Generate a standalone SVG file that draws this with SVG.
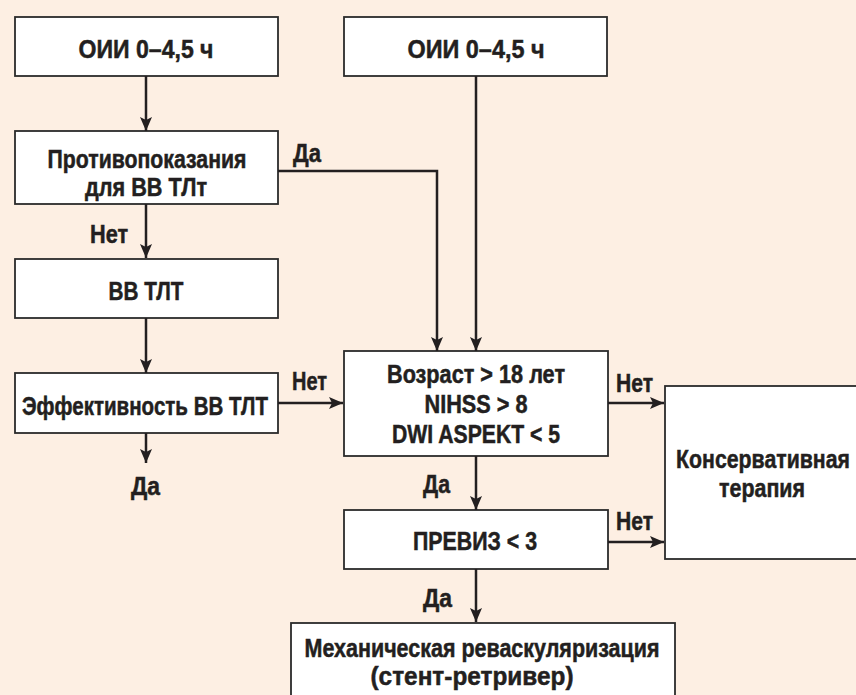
<svg xmlns="http://www.w3.org/2000/svg" width="856" height="695" viewBox="0 0 856 695">
<defs>
<marker id="ah" viewBox="0 0 14 12" refX="14" refY="6" markerWidth="14" markerHeight="12" markerUnits="userSpaceOnUse" orient="auto">
<path d="M0,0 L14,6 L0,12 L3,6 z" fill="#231f20"/>
</marker>
<style>
.box{fill:#fff;stroke:#2b2b2b;stroke-width:1.8}
.t{font-family:"Liberation Sans",Arial,sans-serif;font-weight:bold;font-size:25.5px;fill:#231f20;stroke:#231f20;stroke-width:0.5;text-anchor:middle}
.l{font-family:"Liberation Sans",Arial,sans-serif;font-weight:bold;font-size:25.5px;fill:#231f20;stroke:#231f20;stroke-width:0.5}
.c{fill:none;stroke:#231f20;stroke-width:2.5}
</style>
</defs>
<rect width="856" height="695" fill="#fdefe3"/>
<g id="n1"><rect class="box" x="15" y="17" width="263" height="59"/><text class="t" x="146" y="58" textLength="135" lengthAdjust="spacingAndGlyphs">ОИИ 0–4,5 ч</text></g>
<g id="n2"><rect class="box" x="344" y="17" width="263" height="59"/><text class="t" x="476" y="58" textLength="137" lengthAdjust="spacingAndGlyphs">ОИИ 0–4,5 ч</text></g>
<g id="n3"><rect class="box" x="15" y="131" width="263" height="73"/><text class="t" x="147" y="168" textLength="199" lengthAdjust="spacingAndGlyphs">Противопоказания</text><text class="t" x="146" y="196" textLength="122" lengthAdjust="spacingAndGlyphs">для ВВ ТЛт</text></g>
<g id="n4"><rect class="box" x="15" y="259" width="263" height="59"/><text class="t" x="146" y="300" textLength="75" lengthAdjust="spacingAndGlyphs">ВВ ТЛТ</text></g>
<g id="n5"><rect class="box" x="15" y="373" width="263" height="60"/><text class="t" x="145" y="415" textLength="246" lengthAdjust="spacingAndGlyphs">Эффективность ВВ ТЛТ</text></g>
<g id="n6"><rect class="box" x="344" y="351" width="264" height="105"/><text class="t" x="476" y="383" textLength="178" lengthAdjust="spacingAndGlyphs">Возраст &gt; 18 лет</text><text class="t" x="476" y="413" textLength="103" lengthAdjust="spacingAndGlyphs">NIHSS &gt; 8</text><text class="t" x="476" y="443" textLength="168" lengthAdjust="spacingAndGlyphs">DWI ASPEKT &lt; 5</text></g>
<g id="n7"><rect class="box" x="344" y="510" width="264" height="59"/><text class="t" x="475" y="550" textLength="124" lengthAdjust="spacingAndGlyphs">ПРЕВИЗ &lt; 3</text></g>
<g id="n8"><rect class="box" x="665" y="386" width="200" height="173"/><text class="t" x="763" y="468" textLength="174" lengthAdjust="spacingAndGlyphs">Консервативная</text><text class="t" x="762" y="497" textLength="86" lengthAdjust="spacingAndGlyphs">терапия</text></g>
<g id="n9"><rect class="box" x="291" y="623" width="384" height="80"/><text class="t" x="482" y="657" textLength="355" lengthAdjust="spacingAndGlyphs">Механическая реваскуляризация</text><text class="t" x="472" y="685" textLength="203" lengthAdjust="spacingAndGlyphs">(стент-ретривер)</text></g>
<g id="connectors">
<line class="c" x1="146" y1="76" x2="146" y2="131" marker-end="url(#ah)"/>
<line class="c" x1="146" y1="204" x2="146" y2="258" marker-end="url(#ah)"/>
<line class="c" x1="146" y1="318" x2="146" y2="373" marker-end="url(#ah)"/>
<line class="c" x1="146" y1="433" x2="146" y2="463" marker-end="url(#ah)"/>
<polyline class="c" points="278,171 437,171 437,351" marker-end="url(#ah)"/>
<line class="c" x1="476" y1="76" x2="476" y2="351" marker-end="url(#ah)"/>
<line class="c" x1="278" y1="403" x2="343" y2="403" marker-end="url(#ah)"/>
<line class="c" x1="608" y1="403" x2="664" y2="403" marker-end="url(#ah)"/>
<line class="c" x1="476" y1="456" x2="476" y2="510" marker-end="url(#ah)"/>
<line class="c" x1="608" y1="542" x2="664" y2="542" marker-end="url(#ah)"/>
<line class="c" x1="476" y1="569" x2="476" y2="622" marker-end="url(#ah)"/>
</g>
<g id="labels">
<text class="l" x="293" y="162" textLength="28" lengthAdjust="spacingAndGlyphs">Да</text>
<text class="l" x="90" y="243" textLength="38" lengthAdjust="spacingAndGlyphs">Нет</text>
<text class="l" x="131" y="495" textLength="29" lengthAdjust="spacingAndGlyphs">Да</text>
<text class="l" x="292" y="390" textLength="35" lengthAdjust="spacingAndGlyphs">Нет</text>
<text class="l" x="616" y="392" textLength="37" lengthAdjust="spacingAndGlyphs">Нет</text>
<text class="l" x="423" y="493" textLength="27" lengthAdjust="spacingAndGlyphs">Да</text>
<text class="l" x="616" y="530" textLength="37" lengthAdjust="spacingAndGlyphs">Нет</text>
<text class="l" x="423" y="607" textLength="29" lengthAdjust="spacingAndGlyphs">Да</text>
</g>
</svg>
